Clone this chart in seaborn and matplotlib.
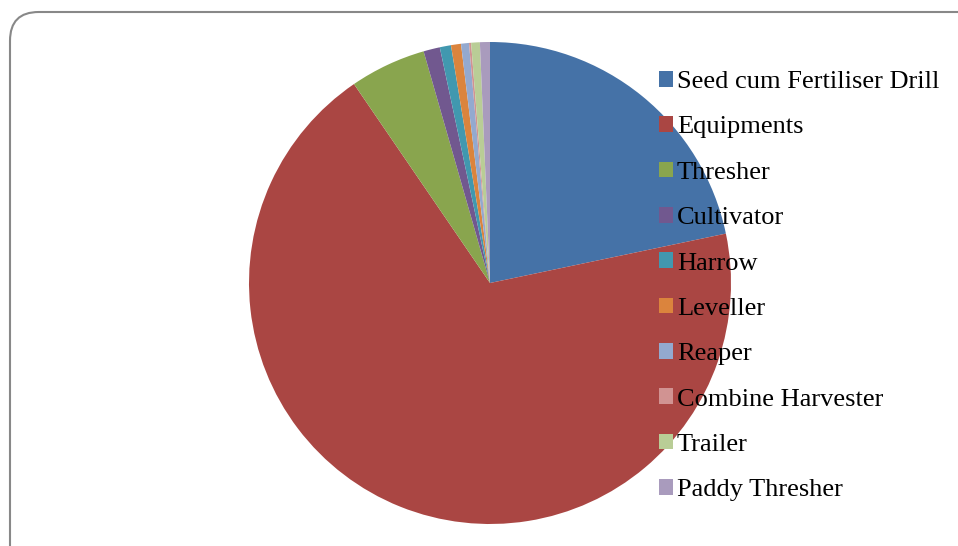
import matplotlib
matplotlib.use("Agg")
import matplotlib.pyplot as plt
import seaborn as sns
from matplotlib.patches import FancyBboxPatch, Patch

# share of each machine type (%)
machines = ["Seed cum Fertiliser Drill", "Equipments", "Thresher", "Cultivator",
            "Harrow", "Leveller", "Reaper", "Combine Harvester", "Trailer",
            "Paddy Thresher"]
shares = [21.7, 68.7, 5.1, 1.1, 0.75, 0.67, 0.53, 0.14, 0.58, 0.67]
colours = ["#4572A7", "#AA4643", "#89A54E", "#71588F", "#4198AF",
           "#DB843D", "#93A9CF", "#D19392", "#B9CD96", "#A99BBD"]

sns.set_theme(style="white")
plt.rcParams['font.family'] = ['Liberation Serif', 'DejaVu Serif']

W, H = 958, 546
fig = plt.figure(figsize=(W / 100, H / 100), dpi=100)

# rounded grey frame, runs off the right and bottom edges
frame = FancyBboxPatch((10 / W, -0.2), 1.1, 1.2 - 12 / H,
                       boxstyle="round,pad=0,rounding_size=0.03",
                       transform=fig.transFigure, fill=False,
                       edgecolor="#888888", linewidth=1.5, clip_on=False,
                       mutation_aspect=W / H)
fig.patches.append(frame)

cx, cy, r = 490, 283, 241
ax = fig.add_axes([(cx - r) / W, (H - cy - r) / H, 2 * r / W, 2 * r / H])
ax.pie(shares, colors=colours, startangle=90, counterclock=False,
       wedgeprops=dict(linewidth=0))
ax.set_xlim(-1, 1)
ax.set_ylim(-1, 1)
ax.set_aspect("equal")
ax.axis("off")

handles = [Patch(facecolor=c, edgecolor="none") for c in colours]
fig.legend(handles, machines, loc="upper left",
           bbox_to_anchor=(659 / W, 1 - 71 / H), frameon=False,
           fontsize=19, labelcolor="black", handlelength=0.53,
           handleheight=0.53, handletextpad=0.15, labelspacing=0.88,
           borderaxespad=0, borderpad=0)

fig.savefig("out.png", dpi=100)
